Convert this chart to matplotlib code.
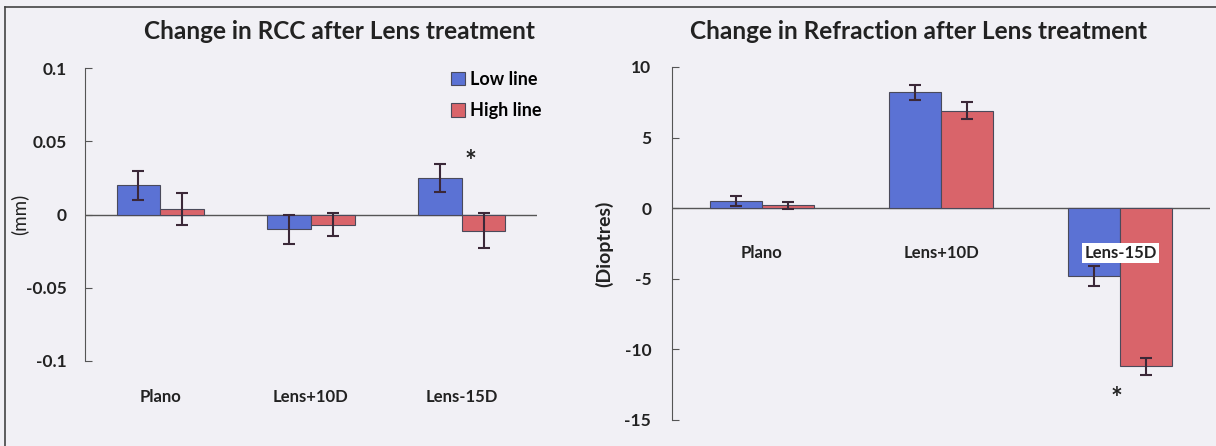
import numpy as np
import matplotlib
matplotlib.use("Agg")
import matplotlib.pyplot as plt
from matplotlib.lines import Line2D

plt.rcParams['font.family'] = ['Lato', 'DejaVu Sans']

categories = ["Plano", "Lens+10D", "Lens-15D"]
series = ["Low line", "High line"]

# change in RCC (mm)
rcc_low = [0.020, -0.010, 0.025]
rcc_low_err = [0.010, 0.010, 0.0095]
rcc_high = [0.004, -0.007, -0.011]
rcc_high_err = [0.011, 0.008, 0.012]

# change in refraction (dioptres)
ref_low = [0.5, 8.2, -4.8]
ref_low_err = [0.35, 0.55, 0.7]
ref_high = [0.2, 6.9, -11.2]
ref_high_err = [0.25, 0.6, 0.6]

# significance marks (category index, y)
rcc_star = (2.06, 0.036)
ref_star = (1.98, -13.5)

blue = "#5b72d4"
red = "#d9646a"
edge = "#4a4a5a"
err_col = "#3b2838"
txt = "#222222"
bg = "#f1f0f5"

fig = plt.figure(figsize=(12.16, 4.46), dpi=100, facecolor=bg)
x = np.arange(len(categories))
w = 0.29


def style(ax, pad):
    ax.set_facecolor("none")
    for s in ["top", "right", "bottom"]:
        ax.spines[s].set_visible(False)
    ax.spines["left"].set_color("#555555")
    ax.axhline(0, color="#555555", lw=1.0, zorder=1)
    ax.tick_params(axis="y", direction="in", length=5, color="#555555",
                   labelsize=12.5, labelcolor=txt, pad=pad)
    ax.tick_params(axis="x", length=0)
    ax.set_xlim(-0.5, 2.5)
    for lab in ax.get_yticklabels():
        lab.set_fontweight("bold")


def bars(ax, low, lerr, high, herr):
    ek = dict(ecolor=err_col, elinewidth=1.5, capsize=4, capthick=1.5)
    ax.bar(x - w / 2, low, w, yerr=lerr, color=blue, edgecolor=edge,
           linewidth=0.8, error_kw=ek, label=series[0], zorder=2)
    ax.bar(x + w / 2, high, w, yerr=herr, color=red, edgecolor=edge,
           linewidth=0.8, error_kw=ek, label=series[1], zorder=2)


# left panel
ax1 = fig.add_axes([0.0699, 0.1906, 0.3717, 0.6569])
bars(ax1, rcc_low, rcc_low_err, rcc_high, rcc_high_err)
ax1.set_ylim(-0.1, 0.1)
ax1.set_yticks([-0.1, -0.05, 0, 0.05, 0.1])
ax1.set_yticklabels(["-0.1", "-0.05", "0", "0.05", "0.1"])
style(ax1, 13)
ax1.set_xticks(x)
ax1.set_xticklabels(categories, fontsize=12, fontweight="bold", color=txt)
ax1.tick_params(axis="x", pad=20)
ax1.set_ylabel("(mm)", fontsize=13.5, color=txt)
ax1.yaxis.set_label_coords(-0.125, 0.5)
ax1.text(rcc_star[0], rcc_star[1], "*", fontsize=20, fontweight="bold",
         ha="center", va="center", color=txt)
ax1.legend(loc="upper left", bbox_to_anchor=(0.81, 0.99), frameon=False,
           borderpad=0, borderaxespad=0,
           handlelength=0.78, handleheight=0.78, handletextpad=0.25,
           labelspacing=0.8, prop={"weight": "bold", "size": 13})
fig.text(0.279, 0.929, "Change in RCC after Lens treatment", fontsize=17.6,
         fontweight="bold", ha="center", va="center", color=txt)

# right panel
ax2 = fig.add_axes([0.5526, 0.0583, 0.4425, 0.7915])
bars(ax2, ref_low, ref_low_err, ref_high, ref_high_err)
ax2.set_ylim(-15, 10)
ax2.set_yticks([-15, -10, -5, 0, 5, 10])
ax2.set_yticklabels(["-15", "-10", "-5", "0", "5", "10"])
style(ax2, 15)
ax2.set_xticks([])
for i, c in enumerate(categories):
    kw = {}
    if i == 2:
        kw["bbox"] = dict(facecolor="white", edgecolor="none", pad=1.5)
    ax2.text(x[i], -3.2, c, fontsize=12, fontweight="bold", ha="center",
             va="center", color=txt, zorder=3, **kw)
ax2.set_ylabel("(Dioptres)", fontsize=14, fontweight="bold", color=txt)
ax2.yaxis.set_label_coords(-0.11, 0.5)
ax2.text(ref_star[0], ref_star[1], "*", fontsize=20, fontweight="bold",
         ha="center", va="center", color=txt)
fig.text(0.755, 0.929, "Change in Refraction after Lens treatment", fontsize=17.6,
         fontweight="bold", ha="center", va="center", color=txt)

# scanned page border
fig.add_artist(Line2D([0.004, 1.0], [0.984, 0.984], color="#444444", lw=1.2))
fig.add_artist(Line2D([0.004, 0.004], [0.0, 0.984], color="#444444", lw=1.2))

plt.savefig("out.png", dpi=100, facecolor=bg)
plt.close()
